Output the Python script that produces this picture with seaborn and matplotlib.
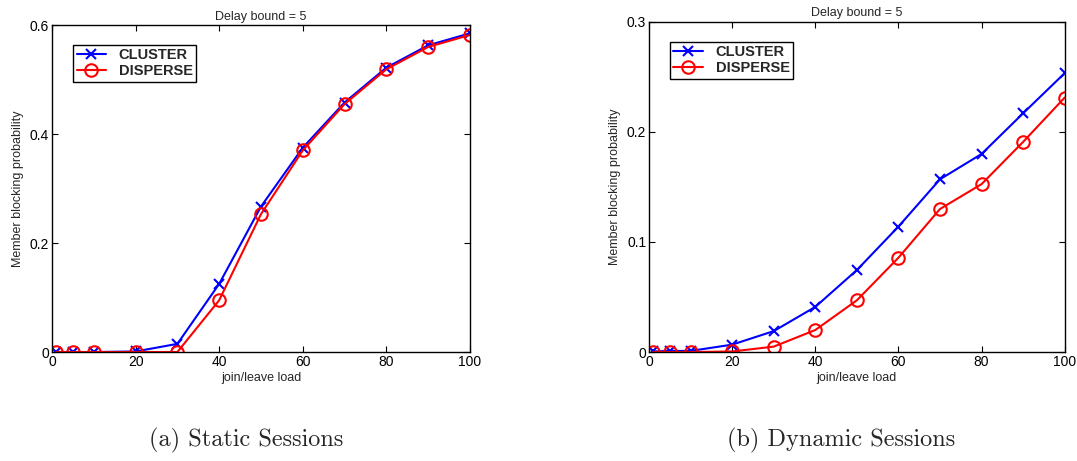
import numpy as np
import pandas as pd
import matplotlib
matplotlib.use("Agg")
import matplotlib.pyplot as plt
import seaborn as sns

# join/leave load levels
load = [1, 5, 10, 20, 30, 40, 50, 60, 70, 80, 90, 100]

# (a) static sessions
static_cluster = [0.0, 0.0, 0.0, 0.001, 0.015, 0.125, 0.267, 0.375, 0.458, 0.522, 0.563, 0.585]
static_disperse = [0.0, 0.0, 0.0, 0.0, 0.0, 0.095, 0.253, 0.370, 0.455, 0.519, 0.560, 0.582]

# (b) dynamic sessions
dynamic_cluster = [0.0005, 0.001, 0.001, 0.0067, 0.019, 0.041, 0.0745, 0.114, 0.157, 0.180, 0.217, 0.2535]
dynamic_disperse = [0.0, 0.0, 0.0, 0.0005, 0.0049, 0.020, 0.047, 0.0857, 0.130, 0.1526, 0.191, 0.2313]

series_names = ["CLUSTER", "DISPERSE"]
title_text = "Delay bound = 5"
xlabel_text = "join/leave load"
ylabel_text = "Member blocking probability"
captions = ["(a) Static Sessions", "(b) Dynamic Sessions"]
xticks = [0, 20, 40, 60, 80, 100]
yticks_a = [0, 0.2, 0.4, 0.6]
ytick_labels_a = ["0", "0.2", "0.4", "0.6"]
yticks_b = [0, 0.1, 0.2, 0.3]
ytick_labels_b = ["0", "0.1", "0.2", "0.3"]

sns.set_theme(style="white")
plt.rcParams["font.family"] = ["Liberation Sans", "DejaVu Sans"]

fig = plt.figure(figsize=(10.77, 4.61), dpi=100)
ax_a = fig.add_axes([0.0483, 0.2364, 0.388, 0.709])
ax_b = fig.add_axes([0.6026, 0.2364, 0.386, 0.716])


def draw_panel(ax, cluster, disperse, yticks, ytick_labels, ymax):
    sns.lineplot(x=load, y=cluster, ax=ax, color="#0000ff", lw=1.5,
                 marker="x", markersize=6.5, mew=1.5, mec="#0000ff",
                 label=series_names[0])
    sns.lineplot(x=load, y=disperse, ax=ax, color="#ff0000", lw=1.5,
                 marker="o", markersize=9, mew=1.5, mec="#ff0000",
                 mfc="none", label=series_names[1])
    ax.set_xlim(0, 100)
    ax.set_ylim(0, ymax)
    ax.set_xticks(xticks)
    ax.set_xticklabels([str(t) for t in xticks])
    ax.set_yticks(yticks)
    ax.set_yticklabels(ytick_labels)
    ax.tick_params(direction="in", length=4, width=0.8, colors="black",
                   labelsize=10, top=True, right=True, bottom=True, left=True, pad=2)
    for sp in ax.spines.values():
        sp.set_color("black")
        sp.set_linewidth(1.0)
    ax.set_title(title_text, fontsize=9, pad=4)
    ax.set_xlabel(xlabel_text, fontsize=9, labelpad=2)
    ax.set_ylabel(ylabel_text, fontsize=9, labelpad=4)
    leg = ax.legend(loc="upper left", bbox_to_anchor=(0.05, 0.94),
                    prop={"weight": "bold", "size": 10.5},
                    frameon=True, fancybox=False, edgecolor="black",
                    framealpha=1, borderpad=0.25, handlelength=2.0,
                    handletextpad=0.9, labelspacing=0.12, borderaxespad=0)
    leg.get_frame().set_linewidth(1.0)


draw_panel(ax_a, static_cluster, static_disperse, yticks_a, ytick_labels_a, 0.6)
draw_panel(ax_b, dynamic_cluster, dynamic_disperse, yticks_b, ytick_labels_b, 0.3)

# figure captions under each panel
fig.text(0.2284, 0.045, captions[0], ha="center", va="center",
         family=["cmr10", "DejaVu Serif"], fontsize=17.5)
fig.text(0.781, 0.045, captions[1], ha="center", va="center",
         family=["cmr10", "DejaVu Serif"], fontsize=17.5)

fig.savefig("out.png", dpi=100)
